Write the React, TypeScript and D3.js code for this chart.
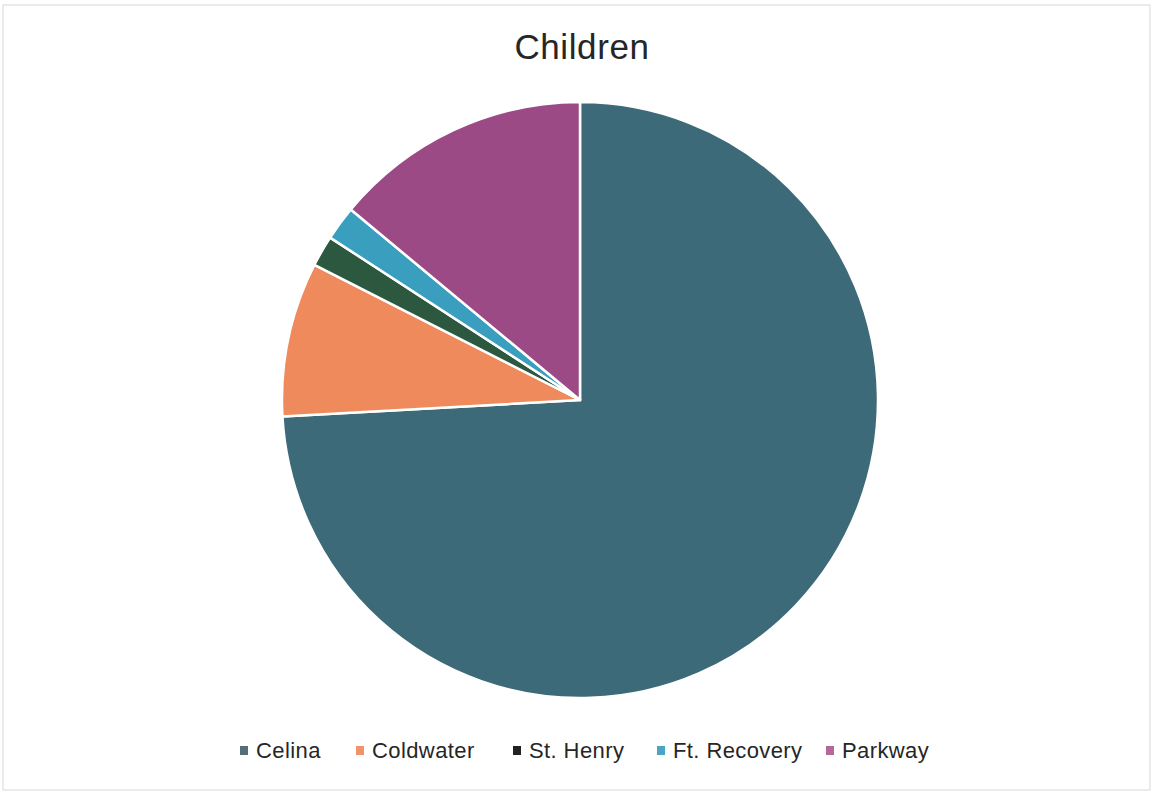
import React from "react";
import * as d3 from "d3";

const categories = ["Celina", "Coldwater", "St. Henry", "Ft. Recovery", "Parkway"];
const values = [398, 45, 9, 10, 75];
const colors = ["#3d6a78", "#ef8a5c", "#2c5840", "#3a9fbe", "#9c4a86"];
const legendColors = ["#556e78", "#f0956a", "#222222", "#4aa6c0", "#b5679a"];
const legendX = [240, 356, 513, 657, 826];

const W = 1160;
const H = 793;
const cx = 580;
const cy = 400;
const r = 298;

export default function App() {
  const pie = d3.pie<number>().sort(null).startAngle(0).endAngle(2 * Math.PI);
  const arcs = pie(values);
  const arc = d3.arc<d3.PieArcDatum<number>>().innerRadius(0).outerRadius(r);

  return (
    <svg
      width={W}
      height={H}
      style={{ position: "absolute", left: 0, top: 0, background: "#fff" }}
    >
      <rect x={3} y={5} width={1147} height={785} fill="#fff" stroke="#d8d8d8" strokeWidth={1} />
      <text
        x={582}
        y={59}
        textAnchor="middle"
        fontFamily="'Liberation Sans', Arial, sans-serif"
        fontSize={35}
        letterSpacing={0.6}
        fill="#262626"
      >
        Children
      </text>
      <g transform={`translate(${cx},${cy})`}>
        {arcs.map((a, i) => (
          <path key={i} d={arc(a) || ""} fill={colors[i]} stroke="#fff" strokeWidth={2.5} strokeLinejoin="round" />
        ))}
      </g>
      <g fontFamily="'Liberation Sans', Arial, sans-serif" fontSize={22} letterSpacing={0.4} fill="#262626">
        {categories.map((c, i) => (
          <g key={c} transform={`translate(${legendX[i]},0)`}>
            <rect x={0} y={746} width={8} height={9} fill={legendColors[i]} />
            <text x={16} y={758}>{c}</text>
          </g>
        ))}
      </g>
    </svg>
  );
}
